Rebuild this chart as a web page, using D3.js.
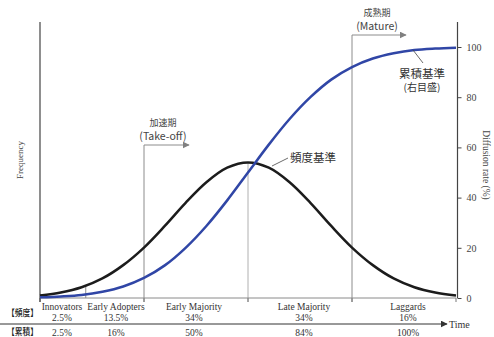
<!DOCTYPE html>
<html>
<head>
<meta charset="utf-8">
<script src="https://cdn.jsdelivr.net/npm/d3@7"></script>
<style>
  html, body { margin: 0; padding: 0; background: #fff; }
  svg { display: block; }
</style>
</head>
<body>
<svg id="chart" width="494" height="337"></svg>
<script>
// Time axis sample points (0 = start, 100 = end of diffusion)
const timePoints = [0, 5, 10, 15, 20, 25, 30, 35, 40, 45, 50, 55, 60, 65, 70, 75, 80, 85, 90, 95, 100];
// Adoption frequency (bell curve, left axis, relative units)
const frequency = [1.0, 2.2, 4.3, 7.8, 13.1, 20.1, 28.7, 37.9, 46.1, 51.9, 54, 51.9, 46.1, 37.9, 28.7, 20.1, 13.1, 7.8, 4.3, 2.2, 1.0];
// Cumulative diffusion rate (%), right axis
const cumulative = [0.25, 0.6, 1.2, 2.5, 4.6, 8.0, 13.0, 20.0, 28.7, 38.9, 50, 61.1, 71.3, 80.0, 87.0, 92.0, 95.4, 97.5, 98.8, 99.4, 99.75];

// Adopter segments: boundaries on the time axis, names and shares
const segmentBounds = [0, 11, 25, 50, 75, 100];
const segmentNames = ["Innovators", "Early Adopters", "Early Majority", "Late Majority", "Laggards"];
const segmentShare = ["2.5%", "13.5%", "34%", "34%", "16%"];
const segmentCumulative = ["2.5%", "16%", "50%", "84%", "100%"];

// Right axis ticks
const rateTicks = [0, 20, 40, 60, 80, 100];

const svg = d3.select("#chart");
const serif = "'Liberation Serif', 'DejaVu Serif', serif";
const cjk = "'Noto Sans CJK JP', 'Noto Sans', sans-serif";

const x = d3.scaleLinear().domain([0, 100]).range([40, 456]);
const yRate = d3.scaleLinear().domain([0, 100]).range([298, 47]);
const yFreq = d3.scaleLinear().domain([0, 100]).range([298, 47]);

const axisTop = 22;
const baseY = yRate(0);

// Segment boundary guides
const guideColor = "#8c8c8c";
// Innovators / Early Adopters boundary: up to the bell curve
function freqAt(t) {
  const i = d3.bisectLeft(timePoints, t);
  if (timePoints[i] === t) return frequency[i];
  const t0 = timePoints[i - 1], t1 = timePoints[i];
  const f = (t - t0) / (t1 - t0);
  return frequency[i - 1] * (1 - f) + frequency[i] * f;
}
svg.append("line")
  .attr("x1", x(segmentBounds[1])).attr("x2", x(segmentBounds[1]))
  .attr("y1", baseY).attr("y2", yFreq(freqAt(segmentBounds[1])))
  .attr("stroke", guideColor).attr("stroke-width", 1);
// Mean line up to the peak
svg.append("line")
  .attr("x1", x(segmentBounds[3])).attr("x2", x(segmentBounds[3]))
  .attr("y1", baseY + 4).attr("y2", yFreq(d3.max(frequency)))
  .attr("stroke", "#b0b0b0").attr("stroke-width", 1);

// Arrowhead markers
const defs = svg.append("defs");
function marker(id, color) {
  defs.append("marker")
    .attr("id", id)
    .attr("viewBox", "0 0 10 10")
    .attr("refX", 9).attr("refY", 5)
    .attr("markerWidth", 7).attr("markerHeight", 7)
    .attr("markerUnits", "userSpaceOnUse")
    .attr("orient", "auto")
    .append("path").attr("d", "M0,0 L10,5 L0,10 Z").attr("fill", color);
}
marker("arrGray", "#808080");
marker("arrDark", "#333");

// Phase markers: Take-off and Mature (vertical line + arrow to the right)
const phases = [
  { t: segmentBounds[2], top: 145, len: 45, line1: "加速期", line2: "(Take-off)" },
  { t: segmentBounds[4], top: 35, len: 54, line1: "成熟期", line2: "(Mature)" }
];
phases.forEach(p => {
  const px = x(p.t);
  svg.append("path")
    .attr("d", `M${px},${baseY + 4} L${px},${p.top} L${px + p.len},${p.top}`)
    .attr("fill", "none").attr("stroke", guideColor).attr("stroke-width", 1)
    .attr("marker-end", "url(#arrGray)");
  const cx = px + 19 + (p.len - 45) * 0.67;
  svg.append("text").attr("x", cx).attr("y", p.top - 19.5)
    .attr("text-anchor", "middle").attr("font-family", cjk).attr("font-size", 9)
    .attr("fill", "#444").text(p.line1);
  svg.append("text").attr("x", cx).attr("y", p.top - 5.5)
    .attr("text-anchor", "middle").attr("font-family", cjk).attr("font-size", 10.5)
    .attr("fill", "#444").text(p.line2);
});

// Ticks under the baseline
[segmentBounds[0], segmentBounds[2], segmentBounds[3], segmentBounds[4], segmentBounds[5]].forEach(t => {
  svg.append("line")
    .attr("x1", x(t)).attr("x2", x(t))
    .attr("y1", baseY).attr("y2", baseY + 4)
    .attr("stroke", "#777").attr("stroke-width", 1);
});

// Baseline
svg.append("line")
  .attr("x1", x(0)).attr("x2", x(100))
  .attr("y1", baseY).attr("y2", baseY)
  .attr("stroke", "#8a8a8a").attr("stroke-width", 1);

// Left axis (frequency, no ticks)
svg.append("line")
  .attr("x1", x(0)).attr("x2", x(0))
  .attr("y1", axisTop).attr("y2", baseY + 4)
  .attr("stroke", "#444").attr("stroke-width", 1.2);
svg.append("text")
  .attr("transform", `translate(23,160) rotate(-90)`)
  .attr("text-anchor", "middle").attr("font-family", serif).attr("font-size", 9)
  .attr("fill", "#444").text("Frequency");

// Right axis (diffusion rate)
const rightAxis = svg.append("g")
  .attr("transform", `translate(457.5,0)`)
  .call(d3.axisRight(yRate).tickValues(rateTicks).tickSize(4).tickPadding(5));
rightAxis.select(".domain").attr("d", `M0,${axisTop}V${baseY}`).attr("stroke", "#444").attr("stroke-width", 1.2);
rightAxis.selectAll(".tick line").attr("stroke", "#444");
rightAxis.selectAll(".tick text")
  .attr("font-family", serif).attr("font-size", 10).attr("fill", "#444");
svg.append("text")
  .attr("transform", `translate(483,165) rotate(90)`)
  .attr("text-anchor", "middle").attr("font-family", serif).attr("font-size", 9.5)
  .attr("fill", "#444").text("Diffusion rate (%)");

// Curves
const pts = (vals, ys) => timePoints.map((t, i) => [x(t), ys(vals[i])]);
const line = d3.line().curve(d3.curveCatmullRom.alpha(0.5));

svg.append("path")
  .attr("d", line(pts(frequency, yFreq)))
  .attr("fill", "none").attr("stroke", "#1c1c1c").attr("stroke-width", 2.5);
svg.append("path")
  .attr("d", line(pts(cumulative, yRate)))
  .attr("fill", "none").attr("stroke", "#3046a6").attr("stroke-width", 2.5);

// Curve labels with leader lines
svg.append("line").attr("x1", 272).attr("y1", 166).attr("x2", 288).attr("y2", 158)
  .attr("stroke", "#444").attr("stroke-width", 0.8);
svg.append("text").attr("x", 290).attr("y", 161.5)
  .attr("font-family", cjk).attr("font-size", 11.5).attr("fill", "#333").text("頻度基準");

svg.append("line").attr("x1", 413).attr("y1", 50).attr("x2", 423).attr("y2", 63)
  .attr("stroke", "#444").attr("stroke-width", 0.8);
svg.append("text").attr("x", 422).attr("y", 77.5)
  .attr("text-anchor", "middle")
  .attr("font-family", cjk).attr("font-size", 11.5).attr("fill", "#333").text("累積基準");
svg.append("text").attr("x", 422).attr("y", 91)
  .attr("text-anchor", "middle")
  .attr("font-family", cjk).attr("font-size", 10).attr("fill", "#333").text("(右目盛)");

// Segment names and shares
const labelCenters = [62, 116, 194, 304, 408];
segmentNames.forEach((name, i) => {
  const cx = labelCenters[i];
  svg.append("text").attr("x", cx).attr("y", 309.5)
    .attr("text-anchor", "middle").attr("font-family", serif).attr("font-size", 9.5)
    .attr("fill", "#333").text(name);
  svg.append("text").attr("x", cx).attr("y", 320.5)
    .attr("text-anchor", "middle").attr("font-family", serif).attr("font-size", 9.5)
    .attr("fill", "#333").text(segmentShare[i]);
  svg.append("text").attr("x", cx).attr("y", 336)
    .attr("text-anchor", "middle").attr("font-family", serif).attr("font-size", 9.5)
    .attr("fill", "#333").text(segmentCumulative[i]);
});

// Row headers
svg.append("text").attr("x", 7).attr("y", 315.5)
  .attr("font-family", cjk).attr("font-size", 9).attr("font-weight", 500)
  .attr("textLength", 31).attr("lengthAdjust", "spacingAndGlyphs")
  .attr("fill", "#222").text("【頻度】");
svg.append("text").attr("x", 7).attr("y", 335)
  .attr("font-family", cjk).attr("font-size", 9).attr("font-weight", 500)
  .attr("textLength", 31).attr("lengthAdjust", "spacingAndGlyphs")
  .attr("fill", "#222").text("【累積】");

// Time arrow
svg.append("line")
  .attr("x1", 0).attr("x2", 447).attr("y1", 324).attr("y2", 324)
  .attr("stroke", "#333").attr("stroke-width", 1)
  .attr("marker-end", "url(#arrDark)");
svg.append("text").attr("x", 449).attr("y", 327.5)
  .attr("font-family", serif).attr("font-size", 10).attr("fill", "#333").text("Time");
</script>
</body>
</html>
